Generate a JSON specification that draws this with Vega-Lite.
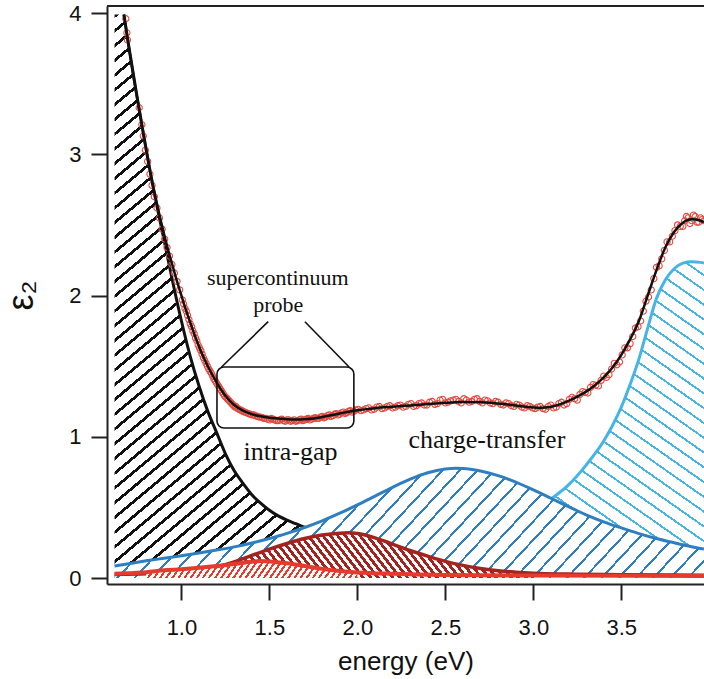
{
  "$schema": "https://vega.github.io/schema/vega-lite/v6.json",
  "width": 597,
  "height": 578,
  "autosize": "none",
  "padding": {"left": 107, "top": 6, "right": 0, "bottom": 95},
  "background": "white",
  "config": {
    "view": {"stroke": null},
    "axis": {
      "grid": false,
      "labelFont": "Liberation Sans",
      "titleFont": "Liberation Sans",
      "labelColor": "#111",
      "titleColor": "#111",
      "domainColor": "#222",
      "tickColor": "#222",
      "domainWidth": 2,
      "tickWidth": 2,
      "titleFontWeight": "normal",
      "labelOverlap": false
    }
  },
  "datasets": {
    "total": [
      {"E":0.673,"v":3.99},{"E":0.7,"v":3.77},{"E":0.725,"v":3.57},{"E":0.75,"v":3.39},{"E":0.775,"v":3.21},
      {"E":0.8,"v":3.03},{"E":0.825,"v":2.86},{"E":0.85,"v":2.71},{"E":0.875,"v":2.57},{"E":0.9,"v":2.44},
      {"E":0.925,"v":2.32},{"E":0.95,"v":2.21},{"E":0.975,"v":2.1},{"E":1.0,"v":2.0},{"E":1.025,"v":1.9},
      {"E":1.05,"v":1.81},{"E":1.075,"v":1.72},{"E":1.1,"v":1.64},{"E":1.125,"v":1.565},{"E":1.15,"v":1.5},
      {"E":1.175,"v":1.44},{"E":1.2,"v":1.385},{"E":1.225,"v":1.335},{"E":1.25,"v":1.29},{"E":1.275,"v":1.255},
      {"E":1.3,"v":1.225},{"E":1.35,"v":1.185},{"E":1.4,"v":1.16},{"E":1.45,"v":1.145},{"E":1.5,"v":1.135},
      {"E":1.55,"v":1.13},{"E":1.6,"v":1.125},{"E":1.65,"v":1.123},{"E":1.7,"v":1.125},{"E":1.75,"v":1.13},
      {"E":1.8,"v":1.14},{"E":1.85,"v":1.152},{"E":1.9,"v":1.165},{"E":1.95,"v":1.178},{"E":2.0,"v":1.188},
      {"E":2.05,"v":1.196},{"E":2.1,"v":1.203},{"E":2.2,"v":1.213},{"E":2.3,"v":1.222},{"E":2.4,"v":1.232},
      {"E":2.5,"v":1.241},{"E":2.6,"v":1.246},{"E":2.7,"v":1.245},{"E":2.8,"v":1.236},{"E":2.9,"v":1.222},
      {"E":3.0,"v":1.208},{"E":3.05,"v":1.206},{"E":3.1,"v":1.213},{"E":3.15,"v":1.23},{"E":3.2,"v":1.255},
      {"E":3.25,"v":1.285},{"E":3.3,"v":1.32},{"E":3.35,"v":1.365},{"E":3.4,"v":1.42},{"E":3.45,"v":1.49},
      {"E":3.5,"v":1.58},{"E":3.55,"v":1.69},{"E":3.6,"v":1.82},{"E":3.65,"v":2.0},{"E":3.7,"v":2.18},
      {"E":3.75,"v":2.34},{"E":3.8,"v":2.45},{"E":3.85,"v":2.515},{"E":3.9,"v":2.54},{"E":3.95,"v":2.53},
      {"E":3.97,"v":2.52}
    ],
    "obs": [
      {"E":0.684,"v":3.96},{"E":0.69,"v":3.86},{"E":0.693,"v":3.81},{"E":0.76,"v":3.33},{"E":0.775,"v":3.21},
      {"E":0.783,"v":3.13},{"E":0.795,"v":3.03},{"E":0.808,"v":2.95},{"E":0.821,"v":2.86},{"E":0.833,"v":2.78},
      {"E":0.846,"v":2.7},{"E":0.861,"v":2.62},{"E":0.875,"v":2.55},{"E":0.89,"v":2.47},{"E":0.905,"v":2.4},
      {"E":0.918,"v":2.34},{"E":0.932,"v":2.28},{"E":0.946,"v":2.22},{"E":0.96,"v":2.16},{"E":0.975,"v":2.1},
      {"E":0.99,"v":2.04},{"E":1.005,"v":1.97},{"E":1.02,"v":1.91},{"E":1.035,"v":1.86},{"E":1.05,"v":1.8},
      {"E":1.065,"v":1.75},{"E":1.08,"v":1.7},{"E":1.095,"v":1.65},{"E":1.11,"v":1.61},{"E":1.125,"v":1.56},
      {"E":1.14,"v":1.52},{"E":1.155,"v":1.48},{"E":1.17,"v":1.45},{"E":1.185,"v":1.41},{"E":1.2,"v":1.38},
      {"E":1.215,"v":1.35},{"E":1.23,"v":1.32},{"E":1.245,"v":1.29},{"E":1.26,"v":1.27},{"E":1.275,"v":1.25},
      {"E":1.29,"v":1.23},{"E":1.305,"v":1.21},{"E":1.32,"v":1.2},{"E":1.335,"v":1.19},{"E":1.35,"v":1.18},
      {"E":1.37,"v":1.17},{"E":1.39,"v":1.16},{"E":1.41,"v":1.155},{"E":1.43,"v":1.145},{"E":1.45,"v":1.14},
      {"E":1.47,"v":1.13},{"E":1.49,"v":1.125},{"E":1.51,"v":1.13},{"E":1.53,"v":1.12},{"E":1.55,"v":1.115},
      {"E":1.57,"v":1.125},{"E":1.59,"v":1.11},{"E":1.61,"v":1.12},{"E":1.63,"v":1.115},{"E":1.65,"v":1.11},
      {"E":1.67,"v":1.12},{"E":1.69,"v":1.115},{"E":1.71,"v":1.125},{"E":1.73,"v":1.12},{"E":1.75,"v":1.13},
      {"E":1.77,"v":1.13},{"E":1.79,"v":1.14},{"E":1.81,"v":1.135},{"E":1.83,"v":1.15},{"E":1.85,"v":1.145},
      {"E":1.87,"v":1.16},{"E":1.89,"v":1.155},{"E":1.91,"v":1.17},{"E":1.93,"v":1.165},{"E":1.95,"v":1.18},
      {"E":1.97,"v":1.175},{"E":1.99,"v":1.19},{"E":2.02,"v":1.185},{"E":2.05,"v":1.2},{"E":2.08,"v":1.19},
      {"E":2.11,"v":1.21},{"E":2.14,"v":1.2},{"E":2.17,"v":1.215},{"E":2.2,"v":1.205},{"E":2.23,"v":1.22},
      {"E":2.26,"v":1.21},{"E":2.29,"v":1.23},{"E":2.32,"v":1.215},{"E":2.35,"v":1.235},{"E":2.38,"v":1.225},
      {"E":2.41,"v":1.245},{"E":2.44,"v":1.23},{"E":2.47,"v":1.26},{"E":2.5,"v":1.24},{"E":2.53,"v":1.255},
      {"E":2.56,"v":1.265},{"E":2.59,"v":1.24},{"E":2.62,"v":1.26},{"E":2.65,"v":1.25},{"E":2.68,"v":1.27},
      {"E":2.71,"v":1.24},{"E":2.74,"v":1.255},{"E":2.77,"v":1.235},{"E":2.8,"v":1.245},{"E":2.83,"v":1.225},
      {"E":2.86,"v":1.235},{"E":2.89,"v":1.215},{"E":2.92,"v":1.225},{"E":2.95,"v":1.205},{"E":2.98,"v":1.215},
      {"E":3.01,"v":1.2},{"E":3.04,"v":1.215},{"E":3.07,"v":1.195},{"E":3.1,"v":1.225},{"E":3.13,"v":1.21},
      {"E":3.16,"v":1.245},{"E":3.19,"v":1.235},{"E":3.22,"v":1.28},{"E":3.25,"v":1.26},{"E":3.28,"v":1.32},
      {"E":3.31,"v":1.31},{"E":3.34,"v":1.37},{"E":3.37,"v":1.36},{"E":3.4,"v":1.43},{"E":3.43,"v":1.44},
      {"E":3.46,"v":1.52},{"E":3.49,"v":1.53},{"E":3.52,"v":1.63},{"E":3.55,"v":1.66},{"E":3.58,"v":1.77},
      {"E":3.61,"v":1.82},{"E":3.64,"v":1.96},{"E":3.67,"v":2.04},{"E":3.7,"v":2.2},{"E":3.73,"v":2.26},
      {"E":3.76,"v":2.38},{"E":3.79,"v":2.42},{"E":3.82,"v":2.5},{"E":3.85,"v":2.49},{"E":3.87,"v":2.56},
      {"E":3.89,"v":2.51},{"E":3.91,"v":2.57},{"E":3.93,"v":2.52},{"E":3.95,"v":2.55},{"E":3.97,"v":2.53},
      {"E":1.0125,"v":1.94},{"E":1.0275,"v":1.89},{"E":1.0425,"v":1.83},{"E":1.0575,"v":1.78},{"E":1.0725,"v":1.73},
      {"E":1.0875,"v":1.68},{"E":1.1025,"v":1.63},{"E":1.1175,"v":1.585},{"E":1.1325,"v":1.54},{"E":1.1475,"v":1.5},
      {"E":1.1625,"v":1.465},{"E":1.1775,"v":1.43},{"E":1.1925,"v":1.395},{"E":1.2075,"v":1.365},{"E":1.2225,"v":1.335},
      {"E":1.2375,"v":1.305},{"E":1.2525,"v":1.28},{"E":1.2675,"v":1.26},{"E":1.2825,"v":1.24},{"E":1.2975,"v":1.22},
      {"E":1.31,"v":1.215},{"E":1.327,"v":1.195},{"E":1.343,"v":1.185},{"E":1.36,"v":1.175},{"E":1.38,"v":1.165},
      {"E":1.4,"v":1.155},{"E":1.42,"v":1.15},{"E":1.44,"v":1.14},{"E":1.46,"v":1.135},{"E":1.48,"v":1.13},
      {"E":1.5,"v":1.12},{"E":1.52,"v":1.125},{"E":1.54,"v":1.115},{"E":1.56,"v":1.12},{"E":1.58,"v":1.115},
      {"E":1.6,"v":1.12},{"E":1.62,"v":1.11},{"E":1.64,"v":1.12},{"E":1.66,"v":1.115},{"E":1.68,"v":1.125},
      {"E":1.7,"v":1.12},{"E":1.72,"v":1.13},{"E":1.74,"v":1.125},{"E":1.76,"v":1.135},{"E":1.78,"v":1.13},
      {"E":1.8,"v":1.145},{"E":1.82,"v":1.14},{"E":1.84,"v":1.155},{"E":1.86,"v":1.15},{"E":1.88,"v":1.165},
      {"E":1.9,"v":1.16},{"E":1.92,"v":1.175},{"E":1.94,"v":1.17},{"E":1.96,"v":1.185},{"E":1.98,"v":1.18},
      {"E":2.005,"v":1.195},{"E":2.035,"v":1.19},{"E":2.065,"v":1.205},{"E":2.095,"v":1.195},{"E":2.125,"v":1.215},
      {"E":2.155,"v":1.205},{"E":2.185,"v":1.22},{"E":2.215,"v":1.21},{"E":2.245,"v":1.225},{"E":2.275,"v":1.215},
      {"E":2.305,"v":1.235},{"E":2.335,"v":1.22},{"E":2.365,"v":1.24},{"E":2.395,"v":1.225},{"E":2.425,"v":1.25},
      {"E":2.455,"v":1.235},{"E":2.485,"v":1.265},{"E":2.515,"v":1.245},{"E":2.545,"v":1.26},{"E":2.575,"v":1.25},
      {"E":2.605,"v":1.27},{"E":2.635,"v":1.245},{"E":2.665,"v":1.265},{"E":2.695,"v":1.25},{"E":2.725,"v":1.26},
      {"E":2.755,"v":1.24},{"E":2.785,"v":1.25},{"E":2.815,"v":1.23},{"E":2.845,"v":1.24},{"E":2.875,"v":1.22},
      {"E":2.905,"v":1.23},{"E":2.935,"v":1.21},{"E":2.965,"v":1.22},{"E":2.995,"v":1.205},{"E":3.025,"v":1.21},
      {"E":3.055,"v":1.2},{"E":3.085,"v":1.215},{"E":3.115,"v":1.205},{"E":3.145,"v":1.235},{"E":3.175,"v":1.225},
      {"E":3.205,"v":1.265},{"E":3.235,"v":1.27},{"E":3.265,"v":1.3},{"E":3.295,"v":1.315},{"E":3.325,"v":1.35},
      {"E":3.355,"v":1.365},{"E":3.385,"v":1.4},{"E":3.415,"v":1.42},{"E":3.445,"v":1.48},{"E":3.475,"v":1.51},
      {"E":3.505,"v":1.58},{"E":3.535,"v":1.63},{"E":3.565,"v":1.71},{"E":3.595,"v":1.78},{"E":3.625,"v":1.89},
      {"E":3.655,"v":1.99},{"E":3.685,"v":2.12},{"E":3.715,"v":2.21},{"E":3.745,"v":2.32},{"E":3.775,"v":2.38},
      {"E":3.805,"v":2.46},{"E":3.835,"v":2.49},{"E":3.86,"v":2.53},{"E":3.88,"v":2.55},{"E":3.9,"v":2.53},
      {"E":3.92,"v":2.56},{"E":3.94,"v":2.52},{"E":3.96,"v":2.54}
    ],
    "black": [
      {"E":0.62,"v":3.99},{"E":0.673,"v":3.99},{"E":0.7,"v":3.77},{"E":0.75,"v":3.39},{"E":0.8,"v":3.03},{"E":0.85,"v":2.7},
      {"E":0.875,"v":2.55},{"E":0.9,"v":2.4},{"E":0.95,"v":2.1},{"E":1.0,"v":1.82},{"E":1.05,"v":1.57},
      {"E":1.1,"v":1.36},{"E":1.15,"v":1.18},{"E":1.2,"v":1.03},{"E":1.25,"v":0.88},{"E":1.3,"v":0.76},
      {"E":1.35,"v":0.67},{"E":1.4,"v":0.59},{"E":1.45,"v":0.53},{"E":1.5,"v":0.48},{"E":1.55,"v":0.44},
      {"E":1.6,"v":0.41},{"E":1.65,"v":0.385},{"E":1.7,"v":0.36},{"E":1.75,"v":0.345},{"E":1.8,"v":0.33}
    ],
    "blue": [
      {"E":0.62,"v":0.085},{"E":0.7,"v":0.102},{"E":0.8,"v":0.122},{"E":0.9,"v":0.14},{"E":1.0,"v":0.158},
      {"E":1.1,"v":0.177},{"E":1.2,"v":0.198},{"E":1.3,"v":0.221},{"E":1.4,"v":0.248},{"E":1.5,"v":0.28},
      {"E":1.6,"v":0.316},{"E":1.7,"v":0.358},{"E":1.8,"v":0.405},{"E":1.9,"v":0.459},{"E":2.0,"v":0.518},
      {"E":2.1,"v":0.58},{"E":2.2,"v":0.642},{"E":2.3,"v":0.7},{"E":2.4,"v":0.746},{"E":2.5,"v":0.772},
      {"E":2.56,"v":0.777},{"E":2.6,"v":0.776},{"E":2.7,"v":0.758},{"E":2.8,"v":0.725},{"E":2.9,"v":0.68},
      {"E":3.0,"v":0.625},{"E":3.1,"v":0.565},{"E":3.2,"v":0.505},{"E":3.3,"v":0.448},{"E":3.4,"v":0.398},
      {"E":3.5,"v":0.355},{"E":3.6,"v":0.315},{"E":3.7,"v":0.28},{"E":3.8,"v":0.25},{"E":3.9,"v":0.222},
      {"E":3.97,"v":0.205}
    ],
    "lblue": [
      {"E":2.7,"v":0.25},{"E":2.8,"v":0.32},{"E":2.9,"v":0.4},{"E":3.0,"v":0.48},{"E":3.1,"v":0.56},
      {"E":3.2,"v":0.66},{"E":3.3,"v":0.8},{"E":3.4,"v":0.97},{"E":3.45,"v":1.08},{"E":3.5,"v":1.21},
      {"E":3.55,"v":1.37},{"E":3.6,"v":1.55},{"E":3.65,"v":1.77},{"E":3.7,"v":1.98},{"E":3.75,"v":2.11},
      {"E":3.8,"v":2.19},{"E":3.85,"v":2.23},{"E":3.9,"v":2.24},{"E":3.95,"v":2.235},{"E":3.97,"v":2.23}
    ],
    "dred": [
      {"E":0.62,"v":0.026},{"E":0.8,"v":0.03},{"E":1.0,"v":0.04},{"E":1.1,"v":0.055},{"E":1.2,"v":0.08},
      {"E":1.3,"v":0.115},{"E":1.4,"v":0.16},{"E":1.5,"v":0.205},{"E":1.6,"v":0.245},{"E":1.7,"v":0.28},
      {"E":1.8,"v":0.305},{"E":1.9,"v":0.318},{"E":1.95,"v":0.32},{"E":2.0,"v":0.315},{"E":2.1,"v":0.285},
      {"E":2.2,"v":0.24},{"E":2.3,"v":0.195},{"E":2.4,"v":0.155},{"E":2.5,"v":0.118},{"E":2.6,"v":0.09},
      {"E":2.7,"v":0.068},{"E":2.8,"v":0.052},{"E":2.9,"v":0.042},{"E":3.0,"v":0.035},{"E":3.2,"v":0.028},
      {"E":3.5,"v":0.024},{"E":3.97,"v":0.02}
    ],
    "red": [
      {"E":0.62,"v":0.03},{"E":0.7,"v":0.035},{"E":0.8,"v":0.042},{"E":0.9,"v":0.055},{"E":1.0,"v":0.063},
      {"E":1.1,"v":0.073},{"E":1.2,"v":0.085},{"E":1.3,"v":0.1},{"E":1.4,"v":0.115},{"E":1.45,"v":0.12},
      {"E":1.5,"v":0.118},{"E":1.6,"v":0.105},{"E":1.7,"v":0.085},{"E":1.8,"v":0.065},{"E":1.9,"v":0.05},
      {"E":2.0,"v":0.04},{"E":2.2,"v":0.03},{"E":2.5,"v":0.022},{"E":3.0,"v":0.018},{"E":3.97,"v":0.015}
    ],
    "frame": [{"E":0.577,"v":4.05},{"E":3.97,"v":4.05}],
    "box": [{"E":1.202,"E2":1.98,"v":1.062,"v2":1.494}],
    "legs": [
      {"E":1.493,"v":1.815,"E2":1.228,"v2":1.494},
      {"E":1.702,"v":1.815,"E2":1.953,"v2":1.494}
    ],
    "probeText": [
      {"E":1.548,"v":2.125,"t":"supercontinuum"},
      {"E":1.55,"v":1.933,"t":"probe"}
    ],
    "bandText": [
      {"E":1.62,"v":0.895,"t":"intra-gap"},
      {"E":2.736,"v":0.977,"t":"charge-transfer"}
    ]
  },
  "encoding": {
    "x": {
      "field": "E",
      "type": "quantitative",
      "scale": {"domain": [0.577, 3.97], "nice": false, "zero": false},
      "axis": {
        "values": [1, 1.5, 2, 2.5, 3, 3.5],
        "format": ".1f",
        "tickSize": 16,
        "labelPadding": 17,
        "labelFontSize": 22,
        "title": "energy (eV)",
        "titleFontSize": 26,
        "titleY": 85,
        "titleBaseline": "alphabetic"
      }
    },
    "y": {
      "field": "v",
      "type": "quantitative",
      "scale": {"domain": [-0.042, 4.05], "nice": false, "zero": false},
      "axis": {
        "values": [0, 1, 2, 3, 4],
        "format": "d",
        "tickSize": 16,
        "labelPadding": 10,
        "labelFontSize": 22,
        "title": "ε₂",
        "titleFontSize": 36,
        "titleX": -86,
        "titleY": 289,
        "titleAngle": -90,
        "titleAlign": "center",
        "titleBaseline": "middle"
      }
    }
  },
  "layer": [
    {
      "data": {"name": "black"},
      "mark": {"type": "area", "interpolate": "monotone", "fill": {"gradient": "linear", "x1": 0, "y1": 0, "x2": 0.368, "y2": 1.1946, "stops": [
        {"offset":0,"color":"#111"},{"offset":0.005,"color":"#111"},{"offset":0.005,"color":"#fff"},{"offset":0.02,"color":"#fff"},
        {"offset":0.02,"color":"#111"},{"offset":0.025,"color":"#111"},{"offset":0.025,"color":"#fff"},{"offset":0.04,"color":"#fff"},
        {"offset":0.04,"color":"#111"},{"offset":0.045,"color":"#111"},{"offset":0.045,"color":"#fff"},{"offset":0.06,"color":"#fff"},
        {"offset":0.06,"color":"#111"},{"offset":0.065,"color":"#111"},{"offset":0.065,"color":"#fff"},{"offset":0.08,"color":"#fff"},
        {"offset":0.08,"color":"#111"},{"offset":0.085,"color":"#111"},{"offset":0.085,"color":"#fff"},{"offset":0.1,"color":"#fff"},
        {"offset":0.1,"color":"#111"},{"offset":0.105,"color":"#111"},{"offset":0.105,"color":"#fff"},{"offset":0.12,"color":"#fff"},
        {"offset":0.12,"color":"#111"},{"offset":0.125,"color":"#111"},{"offset":0.125,"color":"#fff"},{"offset":0.14,"color":"#fff"},
        {"offset":0.14,"color":"#111"},{"offset":0.145,"color":"#111"},{"offset":0.145,"color":"#fff"},{"offset":0.16,"color":"#fff"},
        {"offset":0.16,"color":"#111"},{"offset":0.165,"color":"#111"},{"offset":0.165,"color":"#fff"},{"offset":0.18,"color":"#fff"},
        {"offset":0.18,"color":"#111"},{"offset":0.185,"color":"#111"},{"offset":0.185,"color":"#fff"},{"offset":0.2,"color":"#fff"},
        {"offset":0.2,"color":"#111"},{"offset":0.205,"color":"#111"},{"offset":0.205,"color":"#fff"},{"offset":0.22,"color":"#fff"},
        {"offset":0.22,"color":"#111"},{"offset":0.225,"color":"#111"},{"offset":0.225,"color":"#fff"},{"offset":0.24,"color":"#fff"},
        {"offset":0.24,"color":"#111"},{"offset":0.245,"color":"#111"},{"offset":0.245,"color":"#fff"},{"offset":0.26,"color":"#fff"},
        {"offset":0.26,"color":"#111"},{"offset":0.265,"color":"#111"},{"offset":0.265,"color":"#fff"},{"offset":0.28,"color":"#fff"},
        {"offset":0.28,"color":"#111"},{"offset":0.285,"color":"#111"},{"offset":0.285,"color":"#fff"},{"offset":0.3,"color":"#fff"},
        {"offset":0.3,"color":"#111"},{"offset":0.305,"color":"#111"},{"offset":0.305,"color":"#fff"},{"offset":0.32,"color":"#fff"},
        {"offset":0.32,"color":"#111"},{"offset":0.325,"color":"#111"},{"offset":0.325,"color":"#fff"},{"offset":0.34,"color":"#fff"},
        {"offset":0.34,"color":"#111"},{"offset":0.345,"color":"#111"},{"offset":0.345,"color":"#fff"},{"offset":0.36,"color":"#fff"},
        {"offset":0.36,"color":"#111"},{"offset":0.365,"color":"#111"},{"offset":0.365,"color":"#fff"},{"offset":0.38,"color":"#fff"},
        {"offset":0.38,"color":"#111"},{"offset":0.385,"color":"#111"},{"offset":0.385,"color":"#fff"},{"offset":0.4,"color":"#fff"},
        {"offset":0.4,"color":"#111"},{"offset":0.405,"color":"#111"},{"offset":0.405,"color":"#fff"},{"offset":0.42,"color":"#fff"},
        {"offset":0.42,"color":"#111"},{"offset":0.425,"color":"#111"},{"offset":0.425,"color":"#fff"},{"offset":0.44,"color":"#fff"},
        {"offset":0.44,"color":"#111"},{"offset":0.445,"color":"#111"},{"offset":0.445,"color":"#fff"},{"offset":0.46,"color":"#fff"},
        {"offset":0.46,"color":"#111"},{"offset":0.465,"color":"#111"},{"offset":0.465,"color":"#fff"},{"offset":0.48,"color":"#fff"},
        {"offset":0.48,"color":"#111"},{"offset":0.485,"color":"#111"},{"offset":0.485,"color":"#fff"},{"offset":0.5,"color":"#fff"},
        {"offset":0.5,"color":"#111"},{"offset":0.505,"color":"#111"},{"offset":0.505,"color":"#fff"},{"offset":0.52,"color":"#fff"},
        {"offset":0.52,"color":"#111"},{"offset":0.525,"color":"#111"},{"offset":0.525,"color":"#fff"},{"offset":0.54,"color":"#fff"},
        {"offset":0.54,"color":"#111"},{"offset":0.545,"color":"#111"},{"offset":0.545,"color":"#fff"},{"offset":0.56,"color":"#fff"},
        {"offset":0.56,"color":"#111"},{"offset":0.565,"color":"#111"},{"offset":0.565,"color":"#fff"},{"offset":0.58,"color":"#fff"},
        {"offset":0.58,"color":"#111"},{"offset":0.585,"color":"#111"},{"offset":0.585,"color":"#fff"},{"offset":0.6,"color":"#fff"},
        {"offset":0.6,"color":"#111"},{"offset":0.605,"color":"#111"},{"offset":0.605,"color":"#fff"},{"offset":0.62,"color":"#fff"},
        {"offset":0.62,"color":"#111"},{"offset":0.625,"color":"#111"},{"offset":0.625,"color":"#fff"},{"offset":0.64,"color":"#fff"},
        {"offset":0.64,"color":"#111"},{"offset":0.645,"color":"#111"},{"offset":0.645,"color":"#fff"},{"offset":0.66,"color":"#fff"},
        {"offset":0.66,"color":"#111"},{"offset":0.665,"color":"#111"},{"offset":0.665,"color":"#fff"},{"offset":0.68,"color":"#fff"},
        {"offset":0.68,"color":"#111"},{"offset":0.685,"color":"#111"},{"offset":0.685,"color":"#fff"},{"offset":0.7,"color":"#fff"},
        {"offset":0.7,"color":"#111"},{"offset":0.705,"color":"#111"},{"offset":0.705,"color":"#fff"},{"offset":0.72,"color":"#fff"},
        {"offset":0.72,"color":"#111"},{"offset":0.725,"color":"#111"},{"offset":0.725,"color":"#fff"},{"offset":0.74,"color":"#fff"},
        {"offset":0.74,"color":"#111"},{"offset":0.745,"color":"#111"},{"offset":0.745,"color":"#fff"},{"offset":0.76,"color":"#fff"},
        {"offset":0.76,"color":"#111"},{"offset":0.765,"color":"#111"},{"offset":0.765,"color":"#fff"},{"offset":0.78,"color":"#fff"},
        {"offset":0.78,"color":"#111"},{"offset":0.785,"color":"#111"},{"offset":0.785,"color":"#fff"},{"offset":0.8,"color":"#fff"},
        {"offset":0.8,"color":"#111"},{"offset":0.805,"color":"#111"},{"offset":0.805,"color":"#fff"},{"offset":0.82,"color":"#fff"},
        {"offset":0.82,"color":"#111"},{"offset":0.825,"color":"#111"},{"offset":0.825,"color":"#fff"},{"offset":0.84,"color":"#fff"},
        {"offset":0.84,"color":"#111"},{"offset":0.845,"color":"#111"},{"offset":0.845,"color":"#fff"},{"offset":0.86,"color":"#fff"},
        {"offset":0.86,"color":"#111"},{"offset":0.865,"color":"#111"},{"offset":0.865,"color":"#fff"},{"offset":0.88,"color":"#fff"},
        {"offset":0.88,"color":"#111"},{"offset":0.885,"color":"#111"},{"offset":0.885,"color":"#fff"},{"offset":0.9,"color":"#fff"},
        {"offset":0.9,"color":"#111"},{"offset":0.905,"color":"#111"},{"offset":0.905,"color":"#fff"},{"offset":0.92,"color":"#fff"},
        {"offset":0.92,"color":"#111"},{"offset":0.925,"color":"#111"},{"offset":0.925,"color":"#fff"},{"offset":0.94,"color":"#fff"},
        {"offset":0.94,"color":"#111"},{"offset":0.945,"color":"#111"},{"offset":0.945,"color":"#fff"},{"offset":0.96,"color":"#fff"},
        {"offset":0.96,"color":"#111"},{"offset":0.965,"color":"#111"},{"offset":0.965,"color":"#fff"},{"offset":0.98,"color":"#fff"},
        {"offset":0.98,"color":"#111"},{"offset":0.985,"color":"#111"},{"offset":0.985,"color":"#fff"},{"offset":1,"color":"#fff"}
      ]}}
    },
    {
      "data": {"name": "black"},
      "transform": [{"filter": "datum.E >= 0.673"}],
      "mark": {"type": "line", "interpolate": "monotone", "color": "#111", "strokeWidth": 3}
    },
    {
      "data": {"name": "lblue"},
      "mark": {"type": "area", "interpolate": "monotone", "fill": {"gradient": "linear", "x1": 0, "y1": 1, "x2": 0.7429, "y2": -0.501, "stops": [
        {"offset":0,"color":"#45b4e6"},{"offset":0.004,"color":"#45b4e6"},{"offset":0.004,"color":"#fff"},{"offset":0.025,"color":"#fff"},
        {"offset":0.025,"color":"#45b4e6"},{"offset":0.029,"color":"#45b4e6"},{"offset":0.029,"color":"#fff"},{"offset":0.05,"color":"#fff"},
        {"offset":0.05,"color":"#45b4e6"},{"offset":0.054,"color":"#45b4e6"},{"offset":0.054,"color":"#fff"},{"offset":0.075,"color":"#fff"},
        {"offset":0.075,"color":"#45b4e6"},{"offset":0.079,"color":"#45b4e6"},{"offset":0.079,"color":"#fff"},{"offset":0.1,"color":"#fff"},
        {"offset":0.1,"color":"#45b4e6"},{"offset":0.104,"color":"#45b4e6"},{"offset":0.104,"color":"#fff"},{"offset":0.125,"color":"#fff"},
        {"offset":0.125,"color":"#45b4e6"},{"offset":0.129,"color":"#45b4e6"},{"offset":0.129,"color":"#fff"},{"offset":0.15,"color":"#fff"},
        {"offset":0.15,"color":"#45b4e6"},{"offset":0.154,"color":"#45b4e6"},{"offset":0.154,"color":"#fff"},{"offset":0.175,"color":"#fff"},
        {"offset":0.175,"color":"#45b4e6"},{"offset":0.179,"color":"#45b4e6"},{"offset":0.179,"color":"#fff"},{"offset":0.2,"color":"#fff"},
        {"offset":0.2,"color":"#45b4e6"},{"offset":0.204,"color":"#45b4e6"},{"offset":0.204,"color":"#fff"},{"offset":0.225,"color":"#fff"},
        {"offset":0.225,"color":"#45b4e6"},{"offset":0.229,"color":"#45b4e6"},{"offset":0.229,"color":"#fff"},{"offset":0.25,"color":"#fff"},
        {"offset":0.25,"color":"#45b4e6"},{"offset":0.254,"color":"#45b4e6"},{"offset":0.254,"color":"#fff"},{"offset":0.275,"color":"#fff"},
        {"offset":0.275,"color":"#45b4e6"},{"offset":0.279,"color":"#45b4e6"},{"offset":0.279,"color":"#fff"},{"offset":0.3,"color":"#fff"},
        {"offset":0.3,"color":"#45b4e6"},{"offset":0.304,"color":"#45b4e6"},{"offset":0.304,"color":"#fff"},{"offset":0.325,"color":"#fff"},
        {"offset":0.325,"color":"#45b4e6"},{"offset":0.329,"color":"#45b4e6"},{"offset":0.329,"color":"#fff"},{"offset":0.35,"color":"#fff"},
        {"offset":0.35,"color":"#45b4e6"},{"offset":0.354,"color":"#45b4e6"},{"offset":0.354,"color":"#fff"},{"offset":0.375,"color":"#fff"},
        {"offset":0.375,"color":"#45b4e6"},{"offset":0.379,"color":"#45b4e6"},{"offset":0.379,"color":"#fff"},{"offset":0.4,"color":"#fff"},
        {"offset":0.4,"color":"#45b4e6"},{"offset":0.404,"color":"#45b4e6"},{"offset":0.404,"color":"#fff"},{"offset":0.425,"color":"#fff"},
        {"offset":0.425,"color":"#45b4e6"},{"offset":0.429,"color":"#45b4e6"},{"offset":0.429,"color":"#fff"},{"offset":0.45,"color":"#fff"},
        {"offset":0.45,"color":"#45b4e6"},{"offset":0.454,"color":"#45b4e6"},{"offset":0.454,"color":"#fff"},{"offset":0.475,"color":"#fff"},
        {"offset":0.475,"color":"#45b4e6"},{"offset":0.479,"color":"#45b4e6"},{"offset":0.479,"color":"#fff"},{"offset":0.5,"color":"#fff"},
        {"offset":0.5,"color":"#45b4e6"},{"offset":0.504,"color":"#45b4e6"},{"offset":0.504,"color":"#fff"},{"offset":0.525,"color":"#fff"},
        {"offset":0.525,"color":"#45b4e6"},{"offset":0.529,"color":"#45b4e6"},{"offset":0.529,"color":"#fff"},{"offset":0.55,"color":"#fff"},
        {"offset":0.55,"color":"#45b4e6"},{"offset":0.554,"color":"#45b4e6"},{"offset":0.554,"color":"#fff"},{"offset":0.575,"color":"#fff"},
        {"offset":0.575,"color":"#45b4e6"},{"offset":0.579,"color":"#45b4e6"},{"offset":0.579,"color":"#fff"},{"offset":0.6,"color":"#fff"},
        {"offset":0.6,"color":"#45b4e6"},{"offset":0.604,"color":"#45b4e6"},{"offset":0.604,"color":"#fff"},{"offset":0.625,"color":"#fff"},
        {"offset":0.625,"color":"#45b4e6"},{"offset":0.629,"color":"#45b4e6"},{"offset":0.629,"color":"#fff"},{"offset":0.65,"color":"#fff"},
        {"offset":0.65,"color":"#45b4e6"},{"offset":0.654,"color":"#45b4e6"},{"offset":0.654,"color":"#fff"},{"offset":0.675,"color":"#fff"},
        {"offset":0.675,"color":"#45b4e6"},{"offset":0.679,"color":"#45b4e6"},{"offset":0.679,"color":"#fff"},{"offset":0.7,"color":"#fff"},
        {"offset":0.7,"color":"#45b4e6"},{"offset":0.704,"color":"#45b4e6"},{"offset":0.704,"color":"#fff"},{"offset":0.725,"color":"#fff"},
        {"offset":0.725,"color":"#45b4e6"},{"offset":0.729,"color":"#45b4e6"},{"offset":0.729,"color":"#fff"},{"offset":0.75,"color":"#fff"},
        {"offset":0.75,"color":"#45b4e6"},{"offset":0.754,"color":"#45b4e6"},{"offset":0.754,"color":"#fff"},{"offset":0.775,"color":"#fff"},
        {"offset":0.775,"color":"#45b4e6"},{"offset":0.779,"color":"#45b4e6"},{"offset":0.779,"color":"#fff"},{"offset":0.8,"color":"#fff"},
        {"offset":0.8,"color":"#45b4e6"},{"offset":0.804,"color":"#45b4e6"},{"offset":0.804,"color":"#fff"},{"offset":1,"color":"#fff"}
      ]}}
    },
    {
      "data": {"name": "lblue"},
      "mark": {"type": "line", "interpolate": "monotone", "color": "#45b4e6", "strokeWidth": 3}
    },
    {
      "data": {"name": "blue"},
      "mark": {"type": "area", "interpolate": "monotone", "fill": {"gradient": "linear", "x1": 0, "y1": 0, "x2": 1.139, "y2": 0.198, "stops": [
        {"offset":0,"color":"#2f7fc0"},{"offset":0.004,"color":"#2f7fc0"},{"offset":0.004,"color":"#fff"},{"offset":0.025,"color":"#fff"},
        {"offset":0.025,"color":"#2f7fc0"},{"offset":0.029,"color":"#2f7fc0"},{"offset":0.029,"color":"#fff"},{"offset":0.05,"color":"#fff"},
        {"offset":0.05,"color":"#2f7fc0"},{"offset":0.054,"color":"#2f7fc0"},{"offset":0.054,"color":"#fff"},{"offset":0.075,"color":"#fff"},
        {"offset":0.075,"color":"#2f7fc0"},{"offset":0.079,"color":"#2f7fc0"},{"offset":0.079,"color":"#fff"},{"offset":0.1,"color":"#fff"},
        {"offset":0.1,"color":"#2f7fc0"},{"offset":0.104,"color":"#2f7fc0"},{"offset":0.104,"color":"#fff"},{"offset":0.125,"color":"#fff"},
        {"offset":0.125,"color":"#2f7fc0"},{"offset":0.129,"color":"#2f7fc0"},{"offset":0.129,"color":"#fff"},{"offset":0.15,"color":"#fff"},
        {"offset":0.15,"color":"#2f7fc0"},{"offset":0.154,"color":"#2f7fc0"},{"offset":0.154,"color":"#fff"},{"offset":0.175,"color":"#fff"},
        {"offset":0.175,"color":"#2f7fc0"},{"offset":0.179,"color":"#2f7fc0"},{"offset":0.179,"color":"#fff"},{"offset":0.2,"color":"#fff"},
        {"offset":0.2,"color":"#2f7fc0"},{"offset":0.204,"color":"#2f7fc0"},{"offset":0.204,"color":"#fff"},{"offset":0.225,"color":"#fff"},
        {"offset":0.225,"color":"#2f7fc0"},{"offset":0.229,"color":"#2f7fc0"},{"offset":0.229,"color":"#fff"},{"offset":0.25,"color":"#fff"},
        {"offset":0.25,"color":"#2f7fc0"},{"offset":0.254,"color":"#2f7fc0"},{"offset":0.254,"color":"#fff"},{"offset":0.275,"color":"#fff"},
        {"offset":0.275,"color":"#2f7fc0"},{"offset":0.279,"color":"#2f7fc0"},{"offset":0.279,"color":"#fff"},{"offset":0.3,"color":"#fff"},
        {"offset":0.3,"color":"#2f7fc0"},{"offset":0.304,"color":"#2f7fc0"},{"offset":0.304,"color":"#fff"},{"offset":0.325,"color":"#fff"},
        {"offset":0.325,"color":"#2f7fc0"},{"offset":0.329,"color":"#2f7fc0"},{"offset":0.329,"color":"#fff"},{"offset":0.35,"color":"#fff"},
        {"offset":0.35,"color":"#2f7fc0"},{"offset":0.354,"color":"#2f7fc0"},{"offset":0.354,"color":"#fff"},{"offset":0.375,"color":"#fff"},
        {"offset":0.375,"color":"#2f7fc0"},{"offset":0.379,"color":"#2f7fc0"},{"offset":0.379,"color":"#fff"},{"offset":0.4,"color":"#fff"},
        {"offset":0.4,"color":"#2f7fc0"},{"offset":0.404,"color":"#2f7fc0"},{"offset":0.404,"color":"#fff"},{"offset":0.425,"color":"#fff"},
        {"offset":0.425,"color":"#2f7fc0"},{"offset":0.429,"color":"#2f7fc0"},{"offset":0.429,"color":"#fff"},{"offset":0.45,"color":"#fff"},
        {"offset":0.45,"color":"#2f7fc0"},{"offset":0.454,"color":"#2f7fc0"},{"offset":0.454,"color":"#fff"},{"offset":0.475,"color":"#fff"},
        {"offset":0.475,"color":"#2f7fc0"},{"offset":0.479,"color":"#2f7fc0"},{"offset":0.479,"color":"#fff"},{"offset":0.5,"color":"#fff"},
        {"offset":0.5,"color":"#2f7fc0"},{"offset":0.504,"color":"#2f7fc0"},{"offset":0.504,"color":"#fff"},{"offset":0.525,"color":"#fff"},
        {"offset":0.525,"color":"#2f7fc0"},{"offset":0.529,"color":"#2f7fc0"},{"offset":0.529,"color":"#fff"},{"offset":0.55,"color":"#fff"},
        {"offset":0.55,"color":"#2f7fc0"},{"offset":0.554,"color":"#2f7fc0"},{"offset":0.554,"color":"#fff"},{"offset":0.575,"color":"#fff"},
        {"offset":0.575,"color":"#2f7fc0"},{"offset":0.579,"color":"#2f7fc0"},{"offset":0.579,"color":"#fff"},{"offset":0.6,"color":"#fff"},
        {"offset":0.6,"color":"#2f7fc0"},{"offset":0.604,"color":"#2f7fc0"},{"offset":0.604,"color":"#fff"},{"offset":0.625,"color":"#fff"},
        {"offset":0.625,"color":"#2f7fc0"},{"offset":0.629,"color":"#2f7fc0"},{"offset":0.629,"color":"#fff"},{"offset":0.65,"color":"#fff"},
        {"offset":0.65,"color":"#2f7fc0"},{"offset":0.654,"color":"#2f7fc0"},{"offset":0.654,"color":"#fff"},{"offset":0.675,"color":"#fff"},
        {"offset":0.675,"color":"#2f7fc0"},{"offset":0.679,"color":"#2f7fc0"},{"offset":0.679,"color":"#fff"},{"offset":0.7,"color":"#fff"},
        {"offset":0.7,"color":"#2f7fc0"},{"offset":0.704,"color":"#2f7fc0"},{"offset":0.704,"color":"#fff"},{"offset":0.725,"color":"#fff"},
        {"offset":0.725,"color":"#2f7fc0"},{"offset":0.729,"color":"#2f7fc0"},{"offset":0.729,"color":"#fff"},{"offset":0.75,"color":"#fff"},
        {"offset":0.75,"color":"#2f7fc0"},{"offset":0.754,"color":"#2f7fc0"},{"offset":0.754,"color":"#fff"},{"offset":0.775,"color":"#fff"},
        {"offset":0.775,"color":"#2f7fc0"},{"offset":0.779,"color":"#2f7fc0"},{"offset":0.779,"color":"#fff"},{"offset":0.8,"color":"#fff"},
        {"offset":0.8,"color":"#2f7fc0"},{"offset":0.804,"color":"#2f7fc0"},{"offset":0.804,"color":"#fff"},{"offset":0.825,"color":"#fff"},
        {"offset":0.825,"color":"#2f7fc0"},{"offset":0.829,"color":"#2f7fc0"},{"offset":0.829,"color":"#fff"},{"offset":0.85,"color":"#fff"},
        {"offset":0.85,"color":"#2f7fc0"},{"offset":0.854,"color":"#2f7fc0"},{"offset":0.854,"color":"#fff"},{"offset":0.875,"color":"#fff"},
        {"offset":0.875,"color":"#2f7fc0"},{"offset":0.879,"color":"#2f7fc0"},{"offset":0.879,"color":"#fff"},{"offset":0.9,"color":"#fff"},
        {"offset":0.9,"color":"#2f7fc0"},{"offset":0.904,"color":"#2f7fc0"},{"offset":0.904,"color":"#fff"},{"offset":0.925,"color":"#fff"},
        {"offset":0.925,"color":"#2f7fc0"},{"offset":0.929,"color":"#2f7fc0"},{"offset":0.929,"color":"#fff"},{"offset":0.95,"color":"#fff"},
        {"offset":0.95,"color":"#2f7fc0"},{"offset":0.954,"color":"#2f7fc0"},{"offset":0.954,"color":"#fff"},{"offset":0.975,"color":"#fff"},
        {"offset":0.975,"color":"#2f7fc0"},{"offset":0.979,"color":"#2f7fc0"},{"offset":0.979,"color":"#fff"},{"offset":1,"color":"#fff"}
      ]}}
    },
    {
      "data": {"name": "blue"},
      "mark": {"type": "line", "interpolate": "monotone", "color": "#2f7fc0", "strokeWidth": 3}
    },
    {
      "data": {"name": "dred"},
      "transform": [{"filter": "datum.E >= 1.1 && datum.E <= 3.0"}],
      "mark": {"type": "area", "interpolate": "monotone", "fill": {"gradient": "linear", "x1": 0, "y1": 1, "x2": 1.0934, "y2": 0.8845, "stops": [
        {"offset":0,"color":"#a3241f"},{"offset":0.01,"color":"#a3241f"},{"offset":0.01,"color":"#fff"},{"offset":0.02,"color":"#fff"},
        {"offset":0.02,"color":"#a3241f"},{"offset":0.03,"color":"#a3241f"},{"offset":0.03,"color":"#fff"},{"offset":0.04,"color":"#fff"},
        {"offset":0.04,"color":"#a3241f"},{"offset":0.05,"color":"#a3241f"},{"offset":0.05,"color":"#fff"},{"offset":0.06,"color":"#fff"},
        {"offset":0.06,"color":"#a3241f"},{"offset":0.07,"color":"#a3241f"},{"offset":0.07,"color":"#fff"},{"offset":0.08,"color":"#fff"},
        {"offset":0.08,"color":"#a3241f"},{"offset":0.09,"color":"#a3241f"},{"offset":0.09,"color":"#fff"},{"offset":0.1,"color":"#fff"},
        {"offset":0.1,"color":"#a3241f"},{"offset":0.11,"color":"#a3241f"},{"offset":0.11,"color":"#fff"},{"offset":0.12,"color":"#fff"},
        {"offset":0.12,"color":"#a3241f"},{"offset":0.13,"color":"#a3241f"},{"offset":0.13,"color":"#fff"},{"offset":0.14,"color":"#fff"},
        {"offset":0.14,"color":"#a3241f"},{"offset":0.15,"color":"#a3241f"},{"offset":0.15,"color":"#fff"},{"offset":0.16,"color":"#fff"},
        {"offset":0.16,"color":"#a3241f"},{"offset":0.17,"color":"#a3241f"},{"offset":0.17,"color":"#fff"},{"offset":0.18,"color":"#fff"},
        {"offset":0.18,"color":"#a3241f"},{"offset":0.19,"color":"#a3241f"},{"offset":0.19,"color":"#fff"},{"offset":0.2,"color":"#fff"},
        {"offset":0.2,"color":"#a3241f"},{"offset":0.21,"color":"#a3241f"},{"offset":0.21,"color":"#fff"},{"offset":0.22,"color":"#fff"},
        {"offset":0.22,"color":"#a3241f"},{"offset":0.23,"color":"#a3241f"},{"offset":0.23,"color":"#fff"},{"offset":0.24,"color":"#fff"},
        {"offset":0.24,"color":"#a3241f"},{"offset":0.25,"color":"#a3241f"},{"offset":0.25,"color":"#fff"},{"offset":0.26,"color":"#fff"},
        {"offset":0.26,"color":"#a3241f"},{"offset":0.27,"color":"#a3241f"},{"offset":0.27,"color":"#fff"},{"offset":0.28,"color":"#fff"},
        {"offset":0.28,"color":"#a3241f"},{"offset":0.29,"color":"#a3241f"},{"offset":0.29,"color":"#fff"},{"offset":0.3,"color":"#fff"},
        {"offset":0.3,"color":"#a3241f"},{"offset":0.31,"color":"#a3241f"},{"offset":0.31,"color":"#fff"},{"offset":0.32,"color":"#fff"},
        {"offset":0.32,"color":"#a3241f"},{"offset":0.33,"color":"#a3241f"},{"offset":0.33,"color":"#fff"},{"offset":0.34,"color":"#fff"},
        {"offset":0.34,"color":"#a3241f"},{"offset":0.35,"color":"#a3241f"},{"offset":0.35,"color":"#fff"},{"offset":0.36,"color":"#fff"},
        {"offset":0.36,"color":"#a3241f"},{"offset":0.37,"color":"#a3241f"},{"offset":0.37,"color":"#fff"},{"offset":0.38,"color":"#fff"},
        {"offset":0.38,"color":"#a3241f"},{"offset":0.39,"color":"#a3241f"},{"offset":0.39,"color":"#fff"},{"offset":0.4,"color":"#fff"},
        {"offset":0.4,"color":"#a3241f"},{"offset":0.41,"color":"#a3241f"},{"offset":0.41,"color":"#fff"},{"offset":0.42,"color":"#fff"},
        {"offset":0.42,"color":"#a3241f"},{"offset":0.43,"color":"#a3241f"},{"offset":0.43,"color":"#fff"},{"offset":0.44,"color":"#fff"},
        {"offset":0.44,"color":"#a3241f"},{"offset":0.45,"color":"#a3241f"},{"offset":0.45,"color":"#fff"},{"offset":0.46,"color":"#fff"},
        {"offset":0.46,"color":"#a3241f"},{"offset":0.47,"color":"#a3241f"},{"offset":0.47,"color":"#fff"},{"offset":0.48,"color":"#fff"},
        {"offset":0.48,"color":"#a3241f"},{"offset":0.49,"color":"#a3241f"},{"offset":0.49,"color":"#fff"},{"offset":0.5,"color":"#fff"},
        {"offset":0.5,"color":"#a3241f"},{"offset":0.51,"color":"#a3241f"},{"offset":0.51,"color":"#fff"},{"offset":0.52,"color":"#fff"},
        {"offset":0.52,"color":"#a3241f"},{"offset":0.53,"color":"#a3241f"},{"offset":0.53,"color":"#fff"},{"offset":0.54,"color":"#fff"},
        {"offset":0.54,"color":"#a3241f"},{"offset":0.55,"color":"#a3241f"},{"offset":0.55,"color":"#fff"},{"offset":0.56,"color":"#fff"},
        {"offset":0.56,"color":"#a3241f"},{"offset":0.57,"color":"#a3241f"},{"offset":0.57,"color":"#fff"},{"offset":0.58,"color":"#fff"},
        {"offset":0.58,"color":"#a3241f"},{"offset":0.59,"color":"#a3241f"},{"offset":0.59,"color":"#fff"},{"offset":0.6,"color":"#fff"},
        {"offset":0.6,"color":"#a3241f"},{"offset":0.61,"color":"#a3241f"},{"offset":0.61,"color":"#fff"},{"offset":0.62,"color":"#fff"},
        {"offset":0.62,"color":"#a3241f"},{"offset":0.63,"color":"#a3241f"},{"offset":0.63,"color":"#fff"},{"offset":0.64,"color":"#fff"},
        {"offset":0.64,"color":"#a3241f"},{"offset":0.65,"color":"#a3241f"},{"offset":0.65,"color":"#fff"},{"offset":0.66,"color":"#fff"},
        {"offset":0.66,"color":"#a3241f"},{"offset":0.67,"color":"#a3241f"},{"offset":0.67,"color":"#fff"},{"offset":0.68,"color":"#fff"},
        {"offset":0.68,"color":"#a3241f"},{"offset":0.69,"color":"#a3241f"},{"offset":0.69,"color":"#fff"},{"offset":0.7,"color":"#fff"},
        {"offset":0.7,"color":"#a3241f"},{"offset":0.71,"color":"#a3241f"},{"offset":0.71,"color":"#fff"},{"offset":0.72,"color":"#fff"},
        {"offset":0.72,"color":"#a3241f"},{"offset":0.73,"color":"#a3241f"},{"offset":0.73,"color":"#fff"},{"offset":0.74,"color":"#fff"},
        {"offset":0.74,"color":"#a3241f"},{"offset":0.75,"color":"#a3241f"},{"offset":0.75,"color":"#fff"},{"offset":0.76,"color":"#fff"},
        {"offset":0.76,"color":"#a3241f"},{"offset":0.77,"color":"#a3241f"},{"offset":0.77,"color":"#fff"},{"offset":0.78,"color":"#fff"},
        {"offset":0.78,"color":"#a3241f"},{"offset":0.79,"color":"#a3241f"},{"offset":0.79,"color":"#fff"},{"offset":0.8,"color":"#fff"},
        {"offset":0.8,"color":"#a3241f"},{"offset":0.81,"color":"#a3241f"},{"offset":0.81,"color":"#fff"},{"offset":0.82,"color":"#fff"},
        {"offset":0.82,"color":"#a3241f"},{"offset":0.83,"color":"#a3241f"},{"offset":0.83,"color":"#fff"},{"offset":0.84,"color":"#fff"},
        {"offset":0.84,"color":"#a3241f"},{"offset":0.85,"color":"#a3241f"},{"offset":0.85,"color":"#fff"},{"offset":0.86,"color":"#fff"},
        {"offset":0.86,"color":"#a3241f"},{"offset":0.87,"color":"#a3241f"},{"offset":0.87,"color":"#fff"},{"offset":0.88,"color":"#fff"},
        {"offset":0.88,"color":"#a3241f"},{"offset":0.89,"color":"#a3241f"},{"offset":0.89,"color":"#fff"},{"offset":0.9,"color":"#fff"},
        {"offset":0.9,"color":"#a3241f"},{"offset":0.91,"color":"#a3241f"},{"offset":0.91,"color":"#fff"},{"offset":0.92,"color":"#fff"},
        {"offset":0.92,"color":"#a3241f"},{"offset":0.93,"color":"#a3241f"},{"offset":0.93,"color":"#fff"},{"offset":0.94,"color":"#fff"},
        {"offset":0.94,"color":"#a3241f"},{"offset":0.95,"color":"#a3241f"},{"offset":0.95,"color":"#fff"},{"offset":0.96,"color":"#fff"},
        {"offset":0.96,"color":"#a3241f"},{"offset":0.97,"color":"#a3241f"},{"offset":0.97,"color":"#fff"},{"offset":0.98,"color":"#fff"},
        {"offset":0.98,"color":"#a3241f"},{"offset":0.99,"color":"#a3241f"},{"offset":0.99,"color":"#fff"},{"offset":1,"color":"#fff"}
      ]}}
    },
    {
      "data": {"name": "dred"},
      "mark": {"type": "line", "interpolate": "monotone", "color": "#a3241f", "strokeWidth": 3.5}
    },
    {
      "data": {"name": "red"},
      "transform": [{"filter": "datum.E >= 0.8 && datum.E <= 2.0"}],
      "mark": {"type": "area", "interpolate": "monotone", "fill": {"gradient": "linear", "x1": 0, "y1": 0, "x2": 1.1528, "y2": 0.0646, "stops": [
        {"offset":0,"color":"#e53a2e"},{"offset":0.01,"color":"#e53a2e"},{"offset":0.01,"color":"#fff"},{"offset":0.025,"color":"#fff"},
        {"offset":0.025,"color":"#e53a2e"},{"offset":0.035,"color":"#e53a2e"},{"offset":0.035,"color":"#fff"},{"offset":0.05,"color":"#fff"},
        {"offset":0.05,"color":"#e53a2e"},{"offset":0.06,"color":"#e53a2e"},{"offset":0.06,"color":"#fff"},{"offset":0.075,"color":"#fff"},
        {"offset":0.075,"color":"#e53a2e"},{"offset":0.085,"color":"#e53a2e"},{"offset":0.085,"color":"#fff"},{"offset":0.1,"color":"#fff"},
        {"offset":0.1,"color":"#e53a2e"},{"offset":0.11,"color":"#e53a2e"},{"offset":0.11,"color":"#fff"},{"offset":0.125,"color":"#fff"},
        {"offset":0.125,"color":"#e53a2e"},{"offset":0.135,"color":"#e53a2e"},{"offset":0.135,"color":"#fff"},{"offset":0.15,"color":"#fff"},
        {"offset":0.15,"color":"#e53a2e"},{"offset":0.16,"color":"#e53a2e"},{"offset":0.16,"color":"#fff"},{"offset":0.175,"color":"#fff"},
        {"offset":0.175,"color":"#e53a2e"},{"offset":0.185,"color":"#e53a2e"},{"offset":0.185,"color":"#fff"},{"offset":0.2,"color":"#fff"},
        {"offset":0.2,"color":"#e53a2e"},{"offset":0.21,"color":"#e53a2e"},{"offset":0.21,"color":"#fff"},{"offset":0.225,"color":"#fff"},
        {"offset":0.225,"color":"#e53a2e"},{"offset":0.235,"color":"#e53a2e"},{"offset":0.235,"color":"#fff"},{"offset":0.25,"color":"#fff"},
        {"offset":0.25,"color":"#e53a2e"},{"offset":0.26,"color":"#e53a2e"},{"offset":0.26,"color":"#fff"},{"offset":0.275,"color":"#fff"},
        {"offset":0.275,"color":"#e53a2e"},{"offset":0.285,"color":"#e53a2e"},{"offset":0.285,"color":"#fff"},{"offset":0.3,"color":"#fff"},
        {"offset":0.3,"color":"#e53a2e"},{"offset":0.31,"color":"#e53a2e"},{"offset":0.31,"color":"#fff"},{"offset":0.325,"color":"#fff"},
        {"offset":0.325,"color":"#e53a2e"},{"offset":0.335,"color":"#e53a2e"},{"offset":0.335,"color":"#fff"},{"offset":0.35,"color":"#fff"},
        {"offset":0.35,"color":"#e53a2e"},{"offset":0.36,"color":"#e53a2e"},{"offset":0.36,"color":"#fff"},{"offset":0.375,"color":"#fff"},
        {"offset":0.375,"color":"#e53a2e"},{"offset":0.385,"color":"#e53a2e"},{"offset":0.385,"color":"#fff"},{"offset":0.4,"color":"#fff"},
        {"offset":0.4,"color":"#e53a2e"},{"offset":0.41,"color":"#e53a2e"},{"offset":0.41,"color":"#fff"},{"offset":0.425,"color":"#fff"},
        {"offset":0.425,"color":"#e53a2e"},{"offset":0.435,"color":"#e53a2e"},{"offset":0.435,"color":"#fff"},{"offset":0.45,"color":"#fff"},
        {"offset":0.45,"color":"#e53a2e"},{"offset":0.46,"color":"#e53a2e"},{"offset":0.46,"color":"#fff"},{"offset":0.475,"color":"#fff"},
        {"offset":0.475,"color":"#e53a2e"},{"offset":0.485,"color":"#e53a2e"},{"offset":0.485,"color":"#fff"},{"offset":0.5,"color":"#fff"},
        {"offset":0.5,"color":"#e53a2e"},{"offset":0.51,"color":"#e53a2e"},{"offset":0.51,"color":"#fff"},{"offset":0.525,"color":"#fff"},
        {"offset":0.525,"color":"#e53a2e"},{"offset":0.535,"color":"#e53a2e"},{"offset":0.535,"color":"#fff"},{"offset":0.55,"color":"#fff"},
        {"offset":0.55,"color":"#e53a2e"},{"offset":0.56,"color":"#e53a2e"},{"offset":0.56,"color":"#fff"},{"offset":0.575,"color":"#fff"},
        {"offset":0.575,"color":"#e53a2e"},{"offset":0.585,"color":"#e53a2e"},{"offset":0.585,"color":"#fff"},{"offset":0.6,"color":"#fff"},
        {"offset":0.6,"color":"#e53a2e"},{"offset":0.61,"color":"#e53a2e"},{"offset":0.61,"color":"#fff"},{"offset":0.625,"color":"#fff"},
        {"offset":0.625,"color":"#e53a2e"},{"offset":0.635,"color":"#e53a2e"},{"offset":0.635,"color":"#fff"},{"offset":0.65,"color":"#fff"},
        {"offset":0.65,"color":"#e53a2e"},{"offset":0.66,"color":"#e53a2e"},{"offset":0.66,"color":"#fff"},{"offset":0.675,"color":"#fff"},
        {"offset":0.675,"color":"#e53a2e"},{"offset":0.685,"color":"#e53a2e"},{"offset":0.685,"color":"#fff"},{"offset":0.7,"color":"#fff"},
        {"offset":0.7,"color":"#e53a2e"},{"offset":0.71,"color":"#e53a2e"},{"offset":0.71,"color":"#fff"},{"offset":0.725,"color":"#fff"},
        {"offset":0.725,"color":"#e53a2e"},{"offset":0.735,"color":"#e53a2e"},{"offset":0.735,"color":"#fff"},{"offset":0.75,"color":"#fff"},
        {"offset":0.75,"color":"#e53a2e"},{"offset":0.76,"color":"#e53a2e"},{"offset":0.76,"color":"#fff"},{"offset":0.775,"color":"#fff"},
        {"offset":0.775,"color":"#e53a2e"},{"offset":0.785,"color":"#e53a2e"},{"offset":0.785,"color":"#fff"},{"offset":0.8,"color":"#fff"},
        {"offset":0.8,"color":"#e53a2e"},{"offset":0.81,"color":"#e53a2e"},{"offset":0.81,"color":"#fff"},{"offset":0.825,"color":"#fff"},
        {"offset":0.825,"color":"#e53a2e"},{"offset":0.835,"color":"#e53a2e"},{"offset":0.835,"color":"#fff"},{"offset":0.85,"color":"#fff"},
        {"offset":0.85,"color":"#e53a2e"},{"offset":0.86,"color":"#e53a2e"},{"offset":0.86,"color":"#fff"},{"offset":0.875,"color":"#fff"},
        {"offset":0.875,"color":"#e53a2e"},{"offset":0.885,"color":"#e53a2e"},{"offset":0.885,"color":"#fff"},{"offset":0.9,"color":"#fff"},
        {"offset":0.9,"color":"#e53a2e"},{"offset":0.91,"color":"#e53a2e"},{"offset":0.91,"color":"#fff"},{"offset":0.925,"color":"#fff"},
        {"offset":0.925,"color":"#e53a2e"},{"offset":0.935,"color":"#e53a2e"},{"offset":0.935,"color":"#fff"},{"offset":1,"color":"#fff"}
      ]}}
    },
    {
      "data": {"name": "red"},
      "mark": {"type": "line", "interpolate": "monotone", "color": "#e53a2e", "strokeWidth": 4}
    },
    {
      "data": {"name": "obs"},
      "mark": {"type": "point", "shape": "circle", "filled": false, "color": "#e2483f", "size": 38, "strokeWidth": 1.1, "opacity": 1}
    },
    {
      "data": {"name": "total"},
      "mark": {"type": "line", "interpolate": "monotone", "color": "#111", "strokeWidth": 2.5}
    },
    {
      "data": {"name": "frame"},
      "mark": {"type": "line", "color": "#222", "strokeWidth": 2}
    },
    {
      "data": {"name": "box"},
      "mark": {"type": "rect", "filled": false, "color": "#111", "strokeWidth": 1.6, "cornerRadius": 7},
      "encoding": {"x2": {"field": "E2"}, "y2": {"field": "v2"}}
    },
    {
      "data": {"name": "legs"},
      "mark": {"type": "rule", "color": "#111", "strokeWidth": 1.6},
      "encoding": {"x2": {"field": "E2"}, "y2": {"field": "v2"}}
    },
    {
      "data": {"name": "probeText"},
      "mark": {"type": "text", "font": "Liberation Serif", "fontSize": 22, "color": "#111", "align": "center", "baseline": "middle"},
      "encoding": {"text": {"field": "t"}}
    },
    {
      "data": {"name": "bandText"},
      "mark": {"type": "text", "font": "Liberation Serif", "fontSize": 26, "color": "#111", "align": "center", "baseline": "middle"},
      "encoding": {"text": {"field": "t"}}
    }
  ]
}
